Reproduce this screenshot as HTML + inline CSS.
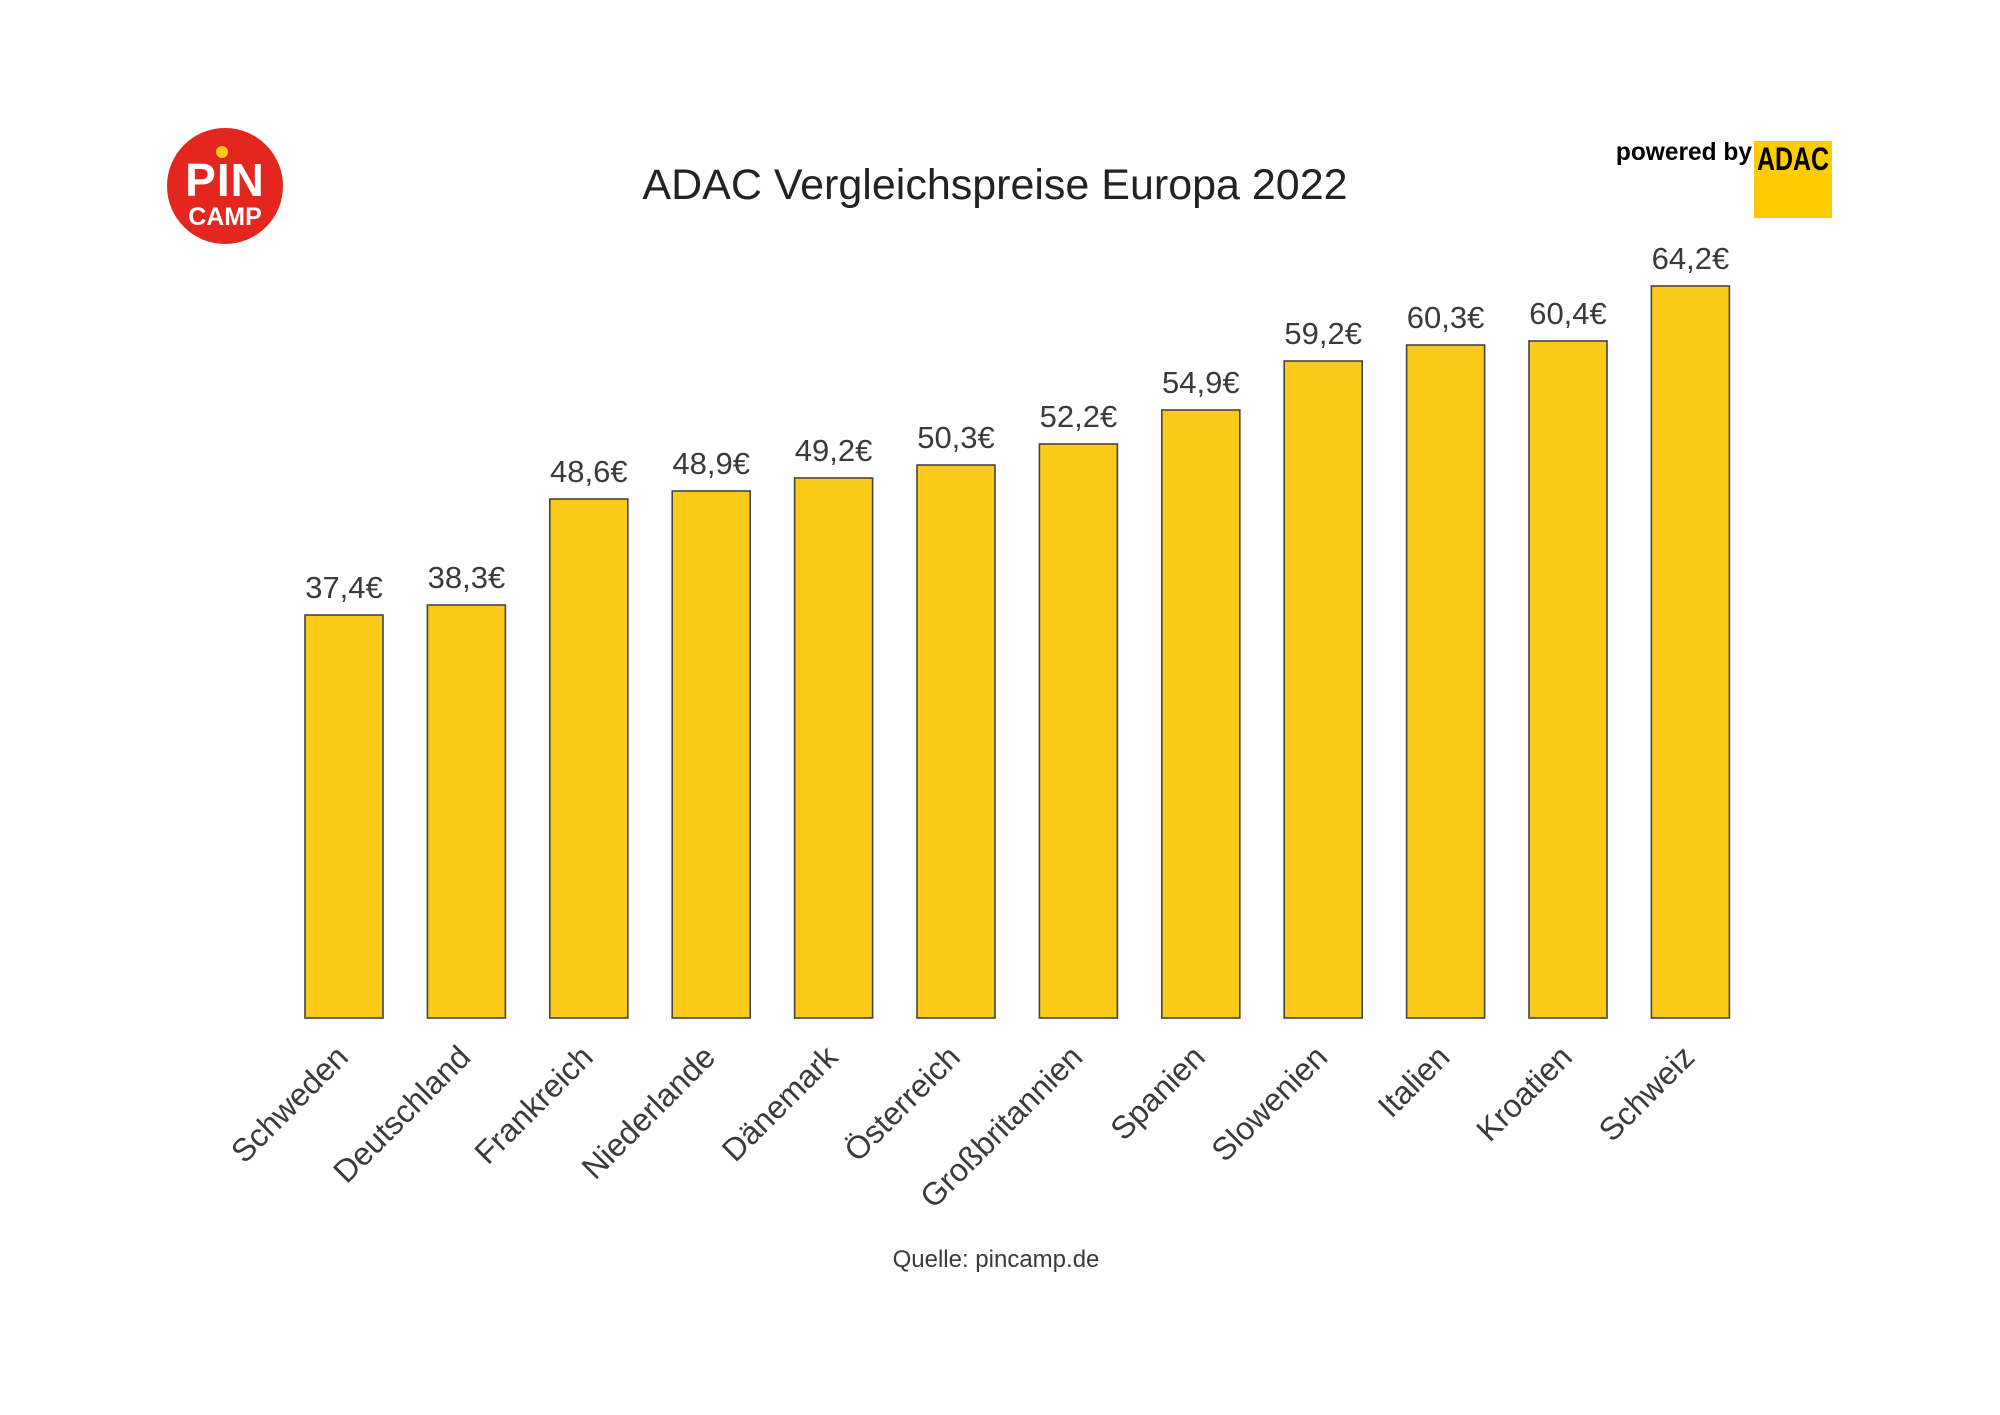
<!DOCTYPE html>
<html><head><meta charset="utf-8"><style>
html,body{margin:0;padding:0;background:#fff;}
svg{display:block;}
</style></head><body>
<svg width="2000" height="1415" viewBox="0 0 2000 1415" xmlns="http://www.w3.org/2000/svg" font-family="Liberation Sans, sans-serif">
<rect width="2000" height="1415" fill="#fff"/>
<!-- logo -->
<circle cx="225" cy="186" r="58" fill="#e3261e"/>
<circle cx="222" cy="152" r="6" fill="#fccb19"/>
<text x="225" y="196" text-anchor="middle" font-size="46" font-weight="bold" fill="#fff" letter-spacing="1">PIN</text>
<text x="225" y="225" text-anchor="middle" font-size="25" font-weight="bold" fill="#fff">CAMP</text>
<!-- title -->
<text x="995" y="199" text-anchor="middle" font-size="43" fill="#222">ADAC Vergleichspreise Europa 2022</text>
<!-- powered by -->
<text x="1752" y="160" text-anchor="end" font-size="25" font-weight="bold" fill="#000" transform="translate(1752,0) scale(0.98,1) translate(-1752,0)">powered by</text>
<rect x="1754" y="141" width="78" height="77" fill="#fecc00"/>
<text x="1793" y="170" text-anchor="middle" font-size="32" font-weight="bold" fill="#000" transform="translate(1793,0) scale(0.78,1) translate(-1793,0)">ADAC</text>
<g id="bars" stroke="#444" stroke-width="1.6" fill="#fccb19"></g>
<g id="vals" font-size="31" fill="#3a3a3a" text-anchor="middle"></g>
<g id="cats" font-size="32" fill="#3a3a3a" text-anchor="end"></g>
<text x="996" y="1267" text-anchor="middle" font-size="24" fill="#3a3a3a">Quelle: pincamp.de</text>
</svg>
<script>
var tops=[615,605,499,491,478,465,444,410,361,345,341,286];
var vals=["37,4€","38,3€","48,6€","48,9€","49,2€","50,3€","52,2€","54,9€","59,2€","60,3€","60,4€","64,2€"];
var cats=["Schweden","Deutschland","Frankreich","Niederlande","Dänemark","Österreich","Großbritannien","Spanien","Slowenien","Italien","Kroatien","Schweiz"];
var ns="http://www.w3.org/2000/svg";
var b=document.getElementById("bars"),v=document.getElementById("vals"),c=document.getElementById("cats");
for(var i=0;i<12;i++){
 var x=305+122.4*i, cx=x+39;
 var r=document.createElementNS(ns,"rect");
 r.setAttribute("x",x);r.setAttribute("y",tops[i]);r.setAttribute("width",78);r.setAttribute("height",1018-tops[i]);
 b.appendChild(r);
 var t=document.createElementNS(ns,"text");
 t.setAttribute("x",cx);t.setAttribute("y",tops[i]-17);t.textContent=vals[i];v.appendChild(t);
 var l=document.createElementNS(ns,"text");
 var ax=cx+6, ay=1059;
 l.setAttribute("x",ax);l.setAttribute("y",ay);
 l.setAttribute("transform","rotate(-45 "+ax+" "+ay+")");
 l.textContent=cats[i];c.appendChild(l);
}
</script>
</body></html>
